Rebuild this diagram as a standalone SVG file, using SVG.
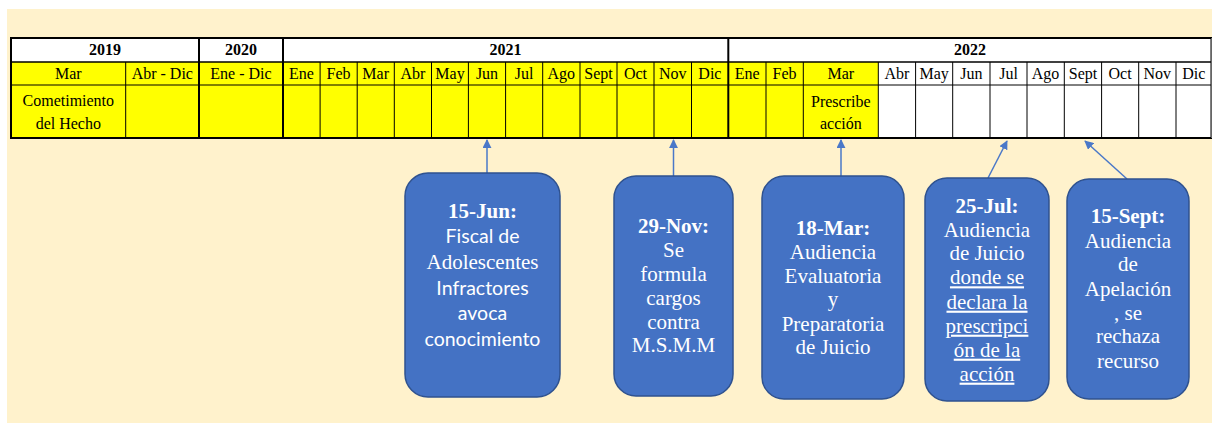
<svg xmlns="http://www.w3.org/2000/svg" width="1212" height="423" viewBox="0 0 1212 423">
<defs>
<style>
.thin{stroke:#000;stroke-width:1}
.thick{stroke:#000;stroke-width:2}
.gray{stroke:#666;stroke-width:1}
.box{fill:#4472c4;stroke:#2f528f;stroke-width:1.5}
.con{stroke:#4a78c8;stroke-width:1.5;fill:none;marker-end:url(#ah)}
</style>
<marker id="ah" viewBox="0 0 10 10" refX="9" refY="5" markerWidth="6" markerHeight="6" markerUnits="strokeWidth" orient="auto">
<path d="M0,0 L10,5 L0,10 z" fill="#4a78c8"/>
</marker>
</defs>
<rect x="7" y="9" width="1205" height="414" fill="#fff2cc"/>

<g id="table">
<rect x="11" y="38" width="1200.5" height="100" fill="#fff"/>
<rect x="11" y="62" width="867.3" height="76" fill="#ffff00"/>
<line x1="11" y1="62" x2="1211.5" y2="62" stroke="#000" stroke-width="1.6"/>
<line class="thin" x1="11" y1="85" x2="1211.5" y2="85"/>
<g class="thin">
<line x1="125.7" y1="62" x2="125.7" y2="138"/>
<line x1="320.1" y1="62" x2="320.1" y2="138"/>
<line x1="357.2" y1="62" x2="357.2" y2="138"/>
<line x1="394.3" y1="62" x2="394.3" y2="138"/>
<line x1="431.5" y1="62" x2="431.5" y2="138"/>
<line x1="468.4" y1="62" x2="468.4" y2="138"/>
<line x1="505.6" y1="62" x2="505.6" y2="138"/>
<line x1="542.7" y1="62" x2="542.7" y2="138"/>
<line x1="580" y1="62" x2="580" y2="138"/>
<line x1="617" y1="62" x2="617" y2="138"/>
<line x1="654" y1="62" x2="654" y2="138"/>
<line x1="691.5" y1="62" x2="691.5" y2="138"/>
<line x1="766" y1="62" x2="766" y2="138"/>
<line x1="803.3" y1="62" x2="803.3" y2="138"/>
<line x1="878.3" y1="62" x2="878.3" y2="138"/>
<line x1="915.6" y1="62" x2="915.6" y2="138"/>
<line x1="952.7" y1="62" x2="952.7" y2="138"/>
<line x1="990" y1="62" x2="990" y2="138"/>
<line x1="1027" y1="62" x2="1027" y2="138"/>
<line x1="1064.3" y1="62" x2="1064.3" y2="138"/>
<line x1="1101.6" y1="62" x2="1101.6" y2="138"/>
<line x1="1138.7" y1="62" x2="1138.7" y2="138"/>
<line x1="1176" y1="62" x2="1176" y2="138"/>
</g>
<g class="thick">
<line x1="199" y1="38" x2="199" y2="138"/>
<line x1="283" y1="38" x2="283" y2="138"/>
<line x1="728.3" y1="38" x2="728.3" y2="138"/>
</g>
<rect x="11" y="38" width="1200.5" height="100" fill="none" stroke="#000" stroke-width="2"/>
<line x1="1211.5" y1="38" x2="1211.5" y2="138" class="gray"/>

<g font-family="Liberation Serif, Times New Roman, serif" font-size="16" fill="#000" text-anchor="middle">
<g font-weight="bold">
<text x="105" y="55">2019</text>
<text x="241" y="55">2020</text>
<text x="505.6" y="55">2021</text>
<text x="970" y="55">2022</text>
</g>
<text x="68.3" y="78.5">Mar</text>
<text x="162.3" y="78.5">Abr - Dic</text>
<text x="241" y="78.5">Ene - Dic</text>
<text x="301.5" y="78.5">Ene</text>
<text x="338.6" y="78.5">Feb</text>
<text x="375.7" y="78.5">Mar</text>
<text x="412.9" y="78.5">Abr</text>
<text x="450" y="78.5">May</text>
<text x="487" y="78.5">Jun</text>
<text x="524.1" y="78.5">Jul</text>
<text x="561.3" y="78.5">Ago</text>
<text x="598.5" y="78.5">Sept</text>
<text x="635.5" y="78.5">Oct</text>
<text x="672.7" y="78.5">Nov</text>
<text x="709.9" y="78.5">Dic</text>
<text x="747.1" y="78.5">Ene</text>
<text x="784.6" y="78.5">Feb</text>
<text x="840.8" y="78.5">Mar</text>
<text x="897" y="78.5">Abr</text>
<text x="934.1" y="78.5">May</text>
<text x="971.3" y="78.5">Jun</text>
<text x="1008.5" y="78.5">Jul</text>
<text x="1045.6" y="78.5">Ago</text>
<text x="1083" y="78.5">Sept</text>
<text x="1120.1" y="78.5">Oct</text>
<text x="1157.3" y="78.5">Nov</text>
<text x="1193.7" y="78.5">Dic</text>
<text x="68.3" y="106">Cometimiento</text>
<text x="68.3" y="129">del Hecho</text>
<text x="840.8" y="106.5">Prescribe</text>
<text x="840.8" y="128.5">acción</text>
</g>
</g>

<g id="connectors">
<line class="con" x1="487" y1="173" x2="487" y2="140"/>
<line class="con" x1="673.5" y1="176" x2="673.5" y2="140"/>
<line class="con" x1="841" y1="176" x2="841" y2="140"/>
<line class="con" x1="988" y1="178" x2="1007" y2="141"/>
<line class="con" x1="1127" y1="179" x2="1085" y2="141"/>
</g>

<g id="n-15jun" font-family="Liberation Serif, Times New Roman, serif" font-size="21" fill="#fff" text-anchor="middle">
<rect class="box" x="405" y="173" width="155" height="224" rx="23"/>
<text x="482.5" y="218" font-weight="bold">15-Jun:</text>
<text x="482.5" y="243" font-family="Lato, Open Sans, sans-serif" font-size="19.5">Fiscal de</text>
<text x="482.5" y="269">Adolescentes</text>
<text x="482.5" y="295" font-family="Lato, Open Sans, sans-serif" font-size="19.5">Infractores</text>
<text x="482.5" y="320" font-family="Lato, Open Sans, sans-serif" font-size="19.5">avoca</text>
<text x="482.5" y="346" font-family="Lato, Open Sans, sans-serif" font-size="19.5">conocimiento</text>
</g>

<g id="n-29nov" font-family="Liberation Serif, Times New Roman, serif" font-size="21" fill="#fff" text-anchor="middle">
<rect class="box" x="614" y="176" width="119" height="220" rx="22"/>
<text x="673.5" y="232.7" font-weight="bold">29-Nov:</text>
<text x="673.5" y="256.7">Se</text>
<text x="673.5" y="280.7">formula</text>
<text x="673.5" y="305">cargos</text>
<text x="673.5" y="329">contra</text>
<text x="673.5" y="352">M.S.M.M</text>
</g>

<g id="n-18mar" font-family="Liberation Serif, Times New Roman, serif" font-size="21" fill="#fff" text-anchor="middle">
<rect class="box" x="762" y="176" width="142" height="223" rx="22"/>
<text x="833" y="235" font-weight="bold">18-Mar:</text>
<text x="833" y="259">Audiencia</text>
<text x="833" y="283">Evaluatoria</text>
<text x="833" y="306">y</text>
<text x="833" y="331">Preparatoria</text>
<text x="833" y="354">de Juicio</text>
</g>

<g id="n-25jul" font-family="Liberation Serif, Times New Roman, serif" font-size="21" fill="#fff" text-anchor="middle">
<rect class="box" x="925" y="178" width="124" height="223" rx="22"/>
<text x="987" y="212.7" font-weight="bold">25-Jul:</text>
<text x="987" y="236.7">Audiencia</text>
<text x="987" y="260">de Juicio</text>
<text x="987" y="284.3" text-decoration="underline">donde se</text>
<text x="987" y="308.7" text-decoration="underline">declara la</text>
<text x="987" y="332.7" text-decoration="underline">prescripci</text>
<text x="987" y="356.7" text-decoration="underline">ón de la</text>
<text x="987" y="380.7" text-decoration="underline">acción</text>
</g>

<g id="n-15sept" font-family="Liberation Serif, Times New Roman, serif" font-size="21" fill="#fff" text-anchor="middle">
<rect class="box" x="1067" y="179" width="122" height="220" rx="22"/>
<text x="1128" y="223" font-weight="bold">15-Sept:</text>
<text x="1128" y="247.7">Audiencia</text>
<text x="1128" y="271">de</text>
<text x="1128" y="295.7">Apelación</text>
<text x="1128" y="320">, se</text>
<text x="1128" y="343">rechaza</text>
<text x="1128" y="367.7">recurso</text>
</g>
</svg>
